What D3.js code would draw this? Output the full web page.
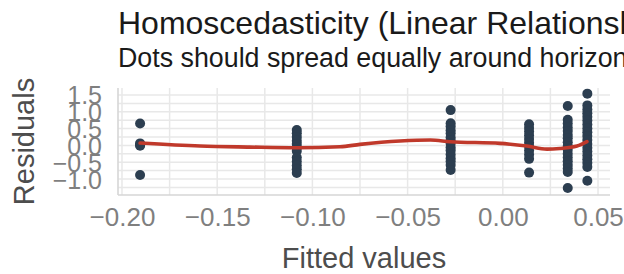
<!DOCTYPE html>
<html>
<head>
<meta charset="utf-8">
<script src="https://cdn.jsdelivr.net/npm/d3@7/dist/d3.min.js"></script>
<style>
  html, body { margin: 0; padding: 0; background: #fff; }
  svg { display: block; font-family: "Liberation Sans", Arial, sans-serif; }
</style>
</head>
<body>
<svg id="chart"></svg>
<script>
// board size
var svg_w = 624, svg_h = 274;
var pad_left = 118, pad_right = 14, pad_top = 88, pad_bottom = 79;

// fitted values (one per group) and residuals of each group
var fitted = [-0.1905, -0.1082, -0.0274, 0.0138, 0.0341, 0.0444];
var residuals = [
  [0.65, 0.06, 0.02, -0.01, -0.88],
  [0.46, 0.36, 0.25, 0.14, 0.04, -0.06, -0.17, -0.36, -0.48, -0.60, -0.71, -0.82],
  [1.05, 0.66, 0.56, 0.45, 0.36, 0.24, 0.15, 0.05, -0.06, -0.15, -0.27, -0.38, -0.47, -0.58, -0.73],
  [0.63, 0.52, 0.41, 0.30, 0.19, 0.08, -0.03, -0.15, -0.27, -0.40, -0.81],
  [1.17, 0.76, 0.65, 0.53, 0.43, 0.31, 0.21, 0.09, -0.02, -0.13, -0.25, -0.36, -0.47, -0.58, -0.69, -0.79, -1.27],
  [1.54, 1.19, 1.07, 0.96, 0.85, 0.74, 0.62, 0.50, 0.39, 0.28, 0.16, 0.04, -0.07, -0.18, -0.30, -0.41, -0.52, -0.64, -1.05]
];
// loess smooth
var smooth_x = [-0.1905, -0.159, -0.133, -0.108, -0.0855, -0.075, -0.054, -0.038, -0.0277, -0.0015, 0.0127, 0.0232, 0.030, 0.039, 0.0442];
var smooth_y = [0.07, -0.02, -0.05, -0.07, -0.04, 0.03, 0.13, 0.16, 0.11, 0.06, -0.02, -0.11, -0.09, -0.02, 0.11];

// ticks
var x_ticks = [-0.20, -0.15, -0.10, -0.05, 0.00, 0.05];
var x_minor = [-0.175, -0.125, -0.075, -0.025, 0.025];
var y_ticks = [-1.0, -0.5, 0.0, 0.5, 1.0, 1.5];
var y_minor = [-1.25, -0.75, -0.25, 0.25, 0.75, 1.25];

var title = "Homoscedasticity (Linear Relationship)";
var subtitle = "Dots should spread equally around horizontal line";
var x_title = "Fitted values";
var y_title = "Residuals";

var svg = d3.select("#chart").attr("width", svg_w).attr("height", svg_h);

var x_scale = d3.scaleLinear().domain([-0.2021, 0.0563])
  .range([pad_left, svg_w - pad_right]);
var y_scale = d3.scaleLinear().domain([-1.476, 1.708])
  .range([svg_h - pad_bottom, pad_top]);

var fmt = function(d){ return d3.format(".2f")(d).replace("-", "\u2212"); };
var fmt1 = function(d){ return d3.format(".1f")(d).replace("-", "\u2212"); };

// grid
var grid = svg.append("g");
grid.selectAll(".gx").data(x_ticks.concat(x_minor)).enter().append("line")
  .attr("x1", function(d){ return x_scale(d); }).attr("x2", function(d){ return x_scale(d); })
  .attr("y1", pad_top).attr("y2", svg_h - pad_bottom)
  .attr("stroke", "#e8e8e8").attr("stroke-width", 1.5);
grid.selectAll(".gy").data(y_ticks.concat(y_minor)).enter().append("line")
  .attr("x1", pad_left).attr("x2", svg_w - pad_right)
  .attr("y1", function(d){ return y_scale(d); }).attr("y2", function(d){ return y_scale(d); })
  .attr("stroke", "#e8e8e8").attr("stroke-width", 1.5);

// axis lines (left / bottom)
svg.append("line").attr("x1", pad_left).attr("x2", pad_left)
  .attr("y1", pad_top).attr("y2", svg_h - pad_bottom)
  .attr("stroke", "#d6d6d6").attr("stroke-width", 1.6);
svg.append("line").attr("x1", pad_left).attr("x2", svg_w - pad_right)
  .attr("y1", svg_h - pad_bottom).attr("y2", svg_h - pad_bottom)
  .attr("stroke", "#d6d6d6").attr("stroke-width", 1.6);

// axes (labels only)
var x_axis = d3.axisBottom(x_scale).tickValues(x_ticks).tickSize(0).tickPadding(0).tickFormat(fmt);
var gx = svg.append("g").attr("transform", "translate(0," + 208 + ")").call(x_axis);
gx.select(".domain").remove();
gx.selectAll("text").attr("fill", "#7f7f7f").attr("font-size", 26)
  .attr("font-family", "Liberation Sans, Arial, sans-serif").attr("dy", "0.71em").attr("y", 0);

var y_axis = d3.axisLeft(y_scale).tickValues(y_ticks).tickSize(0).tickPadding(0).tickFormat(fmt1);
var gy = svg.append("g").attr("transform", "translate(" + 102 + ",0)").call(y_axis);
gy.select(".domain").remove();
gy.selectAll("text").attr("fill", "#7f7f7f").attr("font-size", 25)
  .attr("font-family", "Liberation Sans, Arial, sans-serif").attr("dy", "0.36em").attr("x", 0);

// points
var pts = [];
fitted.forEach(function(f, i){
  residuals[i].forEach(function(r){ pts.push({x: f, y: r}); });
});
svg.append("g").selectAll("circle").data(pts).enter().append("circle")
  .attr("cx", function(d){ return x_scale(d.x); })
  .attr("cy", function(d){ return y_scale(d.y); })
  .attr("r", 5).attr("fill", "#2c3e50");

// smooth line
var line = d3.line()
  .x(function(d){ return x_scale(d[0]); })
  .y(function(d){ return y_scale(d[1]); })
  .curve(d3.curveMonotoneX);
svg.append("path").datum(d3.zip(smooth_x, smooth_y))
  .attr("d", line).attr("fill", "none")
  .attr("stroke", "#c0392b").attr("stroke-width", 3.6).attr("stroke-linecap", "round");

// titles
svg.append("text").attr("x", pad_left).attr("y", 34).text(title)
  .attr("font-size", 32).attr("fill", "#1a1a1a");
svg.append("text").attr("x", pad_left).attr("y", 67).text(subtitle)
  .attr("font-size", 26.8).attr("fill", "#1a1a1a");
svg.append("text").attr("x", (pad_left + svg_w - pad_right) / 2).attr("y", 268)
  .attr("text-anchor", "middle").text(x_title)
  .attr("font-size", 29).attr("fill", "#4d4d4d");
svg.append("text").attr("transform", "translate(33.5," + (pad_top + svg_h - pad_bottom) / 2 + ") rotate(-90)")
  .attr("text-anchor", "middle").text(y_title)
  .attr("font-size", 29).attr("fill", "#4d4d4d");
</script>
</body>
</html>
